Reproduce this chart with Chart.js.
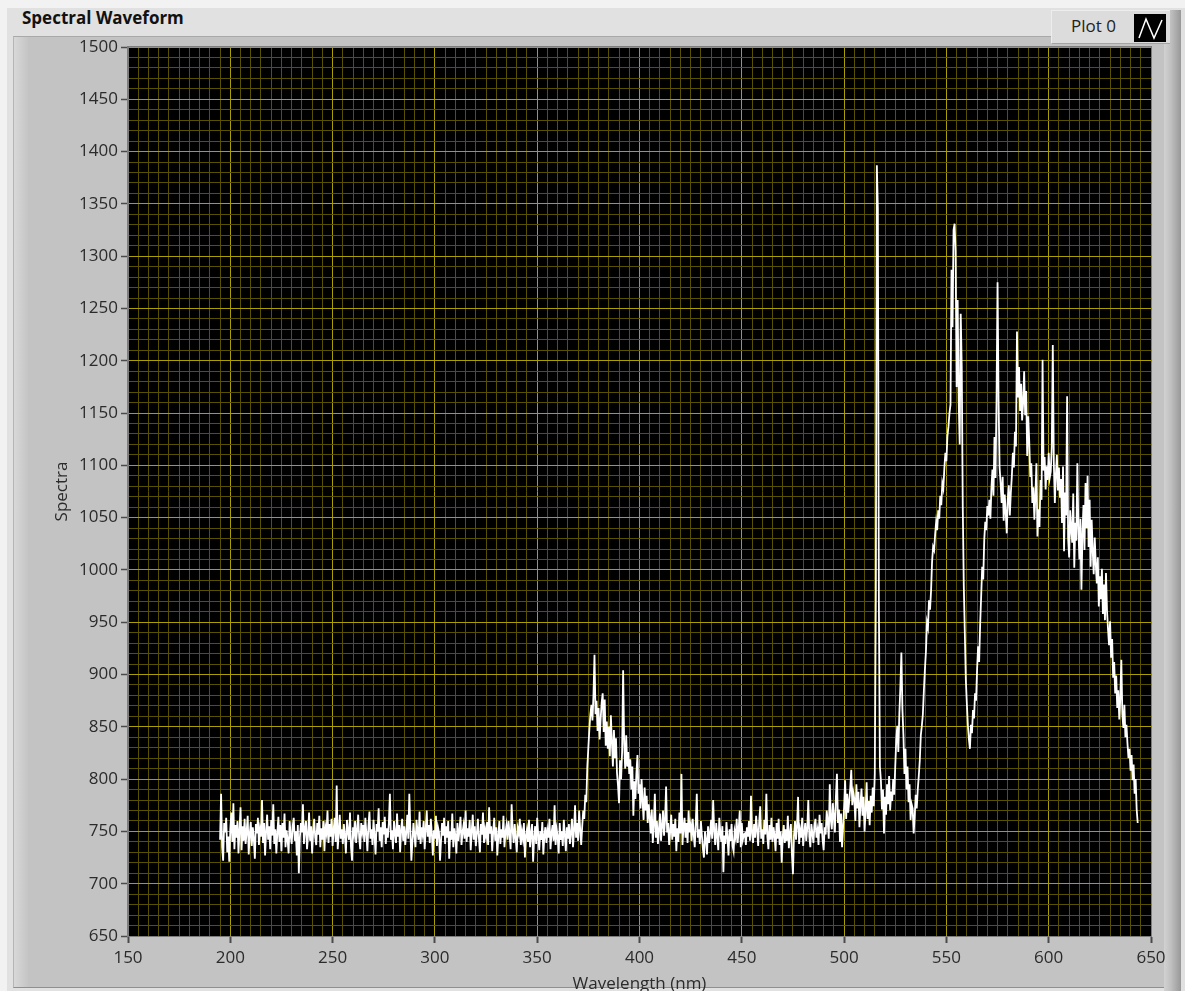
<!DOCTYPE html>
<html>
<head>
<meta charset="utf-8">
<title>Spectral Waveform</title>
<script src="https://cdn.jsdelivr.net/npm/chart.js@4.4.1/dist/chart.umd.min.js"></script>
<style>
  body { margin: 0; width: 1185px; height: 991px; overflow: hidden; background: #f2f2f2; font-family: "Open Sans", sans-serif; position: relative; }
  #frame { position: absolute; left: 7px; top: 8px; width: 1178px; height: 983px; background: #e1e1e1; }
  #title { position: absolute; left: 22px; top: 6px; font-weight: bold; font-size: 17px; color: #111; }
  #panel { position: absolute; left: 13px; top: 36px; width: 1155px; height: 950px; background: #c3c3c3; border-top: 1px solid #a9a9a9; border-left: 1px solid #b5b5b5; border-bottom: 1px solid #8f8f8f; }
  #panelEdge { position: absolute; left: 14px; top: 37px; width: 14px; height: 950px; background: linear-gradient(to right, #d8d8d8, #c5c5c5); }
  #rightBar { position: absolute; left: 1164px; top: 10px; width: 17px; height: 981px; background: linear-gradient(to right, #d2d2d2, #c0c0c0 40%, #989898); }
  #legend { position: absolute; left: 1051px; top: 10px; width: 118px; height: 32px; background: #dcdcdc; border-top: 1px solid #ededed; border-left: 1px solid #ededed; border-bottom: 1px solid #a4a4a4; z-index: 3; }
  #legend span { position: absolute; left: 19px; top: 3px; font-size: 17px; color: #222; }
  #legend svg { position: absolute; left: 82px; top: 3px; }
  #wrap { position: absolute; left: 0; top: 0; width: 1185px; height: 991px; z-index: 2; }
</style>
</head>
<body>
<div id="frame"></div>
<div id="title">Spectral Waveform</div>
<div id="panel"></div>
<div id="panelEdge"></div>
<div id="rightBar"></div>
<div id="legend"><span>Plot 0</span>
  <svg width="32" height="28"><rect width="32" height="28" fill="#000"/><polyline points="5,24 12,5 20,24 28,6" fill="none" stroke="#fff" stroke-width="1.5"/></svg>
</div>
<div id="wrap"><canvas id="spectrumChart"></canvas></div>

<script>
// waveform: first wavelength and sample spacing (nm)
const wavelengthStart = 195;
const wavelengthStep = 0.5;

// spectra values, one row = 10 nm
const spectra = [
  742, 786, 735, 722, 758, 749, 763, 730, 745, 721, 752, 768, 740, 777, 733, 756, 744, 760, 729, 751,
  773, 732, 755, 741, 762, 738, 750, 765, 728, 747, 759, 736, 754, 743, 724, 757, 748, 763, 737, 752,
  745, 780, 739, 758, 727, 750, 766, 742, 755, 733, 761, 746, 776, 738, 752, 729, 749, 764, 740, 756,
  731, 758, 744, 767, 735, 751, 742, 729, 760, 746, 738, 755, 763, 741, 750, 727, 756, 710, 744, 758,
  749, 776, 738, 752, 760, 733, 746, 768, 741, 755, 729, 750, 762, 744, 737, 758, 747, 765, 735, 753,
  742, 760, 731, 754, 748, 770, 739, 757, 745, 762, 736, 751, 763, 740, 794, 733, 748, 766, 743, 752,
  738, 757, 746, 729, 761, 750, 742, 768, 735, 722, 754, 747, 760, 739, 751, 766, 744, 733, 758, 749,
  756, 740, 763, 748, 731, 755, 769, 743, 752, 737, 761, 746, 728, 757, 750, 772, 741, 754, 735, 759,
  747, 764, 738, 753, 744, 758, 786, 742, 751, 733, 760, 748, 739, 767, 745, 756, 730, 752, 762, 741,
  755, 737, 749, 766, 743, 786, 752, 722, 740, 758, 746, 735, 761, 750, 742, 769, 738, 754, 747, 760,
  733, 752, 770, 745, 756, 739, 762, 748, 727, 751, 743, 765, 736, 754, 749, 722, 741, 758, 746, 763,
  738, 755, 744, 760, 724, 750, 742, 767, 735, 753, 746, 729, 758, 741, 751, 764, 737, 749, 756, 743,
  770, 740, 753, 745, 761, 732, 750, 766, 742, 755, 736, 748, 762, 744, 730, 757, 747, 768, 739, 752,
  745, 759, 737, 773, 748, 755, 731, 750, 763, 741, 754, 727, 746, 760, 738, 752, 744, 765, 735, 749,
  756, 742, 760, 747, 733, 776, 751, 739, 757, 744, 730, 753, 748, 762, 737, 750, 743, 758, 725, 746,
  752, 740, 761, 735, 748, 757, 721, 744, 755, 738, 763, 747, 732, 750, 742, 759, 728, 746, 754, 739,
  751, 744, 762, 733, 748, 756, 741, 775, 737, 752, 745, 729, 758, 742, 750, 736, 761, 747, 731, 754,
  743, 757, 738, 749, 762, 735, 751, 775, 744, 758, 741, 770, 752, 737, 755, 770, 762, 785, 778, 812,
  830, 848, 862, 871, 856, 880, 919, 862, 875, 846, 868, 838, 857, 873, 882, 845, 876, 832, 855, 829,
  850, 822, 861, 836, 812, 847, 820, 839, 806, 794, 777, 818, 800, 826, 904, 835, 810, 842, 812, 826,
  805, 819, 790, 812, 765, 798, 781, 806, 823, 786, 795, 772, 800, 779, 761, 792, 770, 784, 758, 776,
  763, 748, 771, 739, 756, 786, 744, 760, 738, 752, 767, 741, 755, 770, 746, 761, 793, 749, 758, 737,
  750, 766, 742, 757, 745, 762, 731, 753, 740, 768, 748, 805, 737, 754, 763, 744, 758, 739, 770, 749,
  756, 741, 762, 747, 735, 758, 786, 744, 752, 738, 760, 746, 733, 725, 750, 742, 728, 755, 739, 748,
  761, 743, 780, 751, 737, 758, 745, 732, 763, 749, 740, 755, 711, 746, 738, 759, 744, 727, 752, 741,
  757, 736, 731, 750, 744, 762, 739, 753, 770, 735, 758, 742, 747, 748, 737, 754, 745, 760, 741, 784,
  748, 739, 757, 744, 765, 751, 736, 759, 774, 743, 752, 738, 761, 747, 786, 745, 733, 756, 742, 763,
  740, 754, 746, 731, 758, 743, 762, 737, 750, 720, 745, 756, 739, 752, 741, 765, 734, 748, 757, 728,
  709, 746, 760, 742, 755, 783, 738, 751, 744, 763, 736, 749, 758, 741, 753, 780, 745, 735, 757, 748,
  739, 755, 762, 744, 751, 737, 766, 748, 758, 742, 732, 754, 747, 770, 759, 743, 795, 761, 752, 777,
  764, 749, 783, 805, 758, 771, 740, 767, 735, 754, 773, 799, 762, 786, 768, 779, 791, 809, 775, 787,
  781, 760, 795, 772, 788, 754, 776, 791, 765, 783, 750, 770, 797, 762, 779, 756, 784, 768, 792, 774,
  805, 975, 1387, 1345, 968, 812, 798, 771, 790, 748, 783, 766, 795, 776, 803, 770, 788, 779, 800, 785,
  812, 838, 851, 826, 862, 888, 921, 867, 842, 805, 829, 790, 812, 778, 795, 761, 776, 772, 748, 764,
  785, 772, 790, 803, 818, 842, 851, 862, 885, 905, 922, 950, 945, 971, 962, 980, 1008, 1022, 1019, 1034,
  1046, 1038, 1057, 1049, 1071, 1062, 1083, 1078, 1097, 1112, 1104, 1128, 1137, 1150, 1158, 1287, 1232, 1325, 1331, 1305,
  1175, 1258, 1162, 1120, 1245, 1194, 1060, 985, 940, 895, 872, 851, 838, 829, 852, 844, 866, 858, 882, 875,
  905, 927, 912, 948, 975, 1003, 991, 1029, 1046, 1038, 1061, 1052, 1067, 1049, 1078, 1096, 1071, 1127, 1088, 1162,
  1275, 1162, 1098, 1083, 1064, 1089, 1047, 1072, 1055, 1035, 1068, 1081, 1052, 1074, 1090, 1112, 1098, 1132, 1118, 1228,
  1165, 1194, 1152, 1178, 1143, 1160, 1190, 1148, 1171, 1109, 1147, 1122, 1089, 1102, 1064, 1079, 1048, 1071, 1102, 1032,
  1058, 1041, 1086, 1067, 1201, 1095, 1108, 1077, 1099, 1086, 1112, 1088, 1094, 1118, 1215, 1103, 1064, 1091, 1110, 1076,
  1098, 1069, 1087, 1045, 1099, 1018, 1074, 1052, 1166, 1030, 1012, 1057, 1039, 1026, 1073, 1002, 1045, 1028, 1102, 1041,
  1010, 1049, 981, 1035, 1062, 1019, 1083, 1040, 1090, 1022, 1067, 1003, 1048, 1019, 996, 1031, 1006, 987, 1012, 965,
  994, 972, 1001, 958, 986, 952, 997, 961, 943, 928, 951, 916, 934, 897, 912, 882, 899, 868, 885, 857,
  878, 914, 862, 849, 871, 840, 852, 834, 820, 829, 808, 823, 799, 814, 786, 800, 771, 758
];

const xTickLabels = [150, 200, 250, 300, 350, 400, 450, 500, 550, 600, 650];
const yTickLabels = [650, 700, 750, 800, 850, 900, 950, 1000, 1050, 1100, 1150, 1200, 1250, 1300, 1350, 1400, 1450, 1500];

const majorGrid = '#aa9e00';
const minorGrid = '#585200';
const labelFont = { family: '"Open Sans", sans-serif', size: 17 };

let points = spectra.map(function (v, i) {
  return { x: wavelengthStart + i * wavelengthStep, y: v };
});

// black plot background + thin frame
const plotFrame = {
  id: 'plotFrame',
  beforeDraw(chart) {
    const a = chart.chartArea;
    const ctx = chart.ctx;
    ctx.save();
    ctx.fillStyle = '#000';
    ctx.fillRect(a.left, a.top, a.right - a.left, a.bottom - a.top);
    ctx.restore();
  },
  afterDraw(chart) {
    const a = chart.chartArea;
    const ctx = chart.ctx;
    ctx.save();
    ctx.strokeStyle = '#7d7d7d';
    ctx.lineWidth = 1;
    ctx.strokeRect(a.left - 0.5, a.top - 0.5, a.right - a.left + 1, a.bottom - a.top + 1);
    ctx.restore();
  }
};

function gridColor(labels) {
  return function (c) {
    return c.tick && labels.includes(c.tick.value) ? majorGrid : minorGrid;
  };
}
function tickMarkColor(labels) {
  return function (c) {
    return c.tick && labels.includes(c.tick.value) ? '#4a4a4a' : 'rgba(0,0,0,0)';
  };
}

new Chart(document.getElementById('spectrumChart'), {
  type: 'line',
  data: {
    datasets: [{
      label: 'Plot 0',
      data: points,
      borderColor: '#ffffff',
      borderWidth: 1.8,
      pointRadius: 0,
      tension: 0,
      fill: false
    }]
  },
  options: {
    responsive: true,
    maintainAspectRatio: false,
    animation: false,
    events: [],
    layout: { padding: { left: 0, top: 47, right: 34, bottom: 0 } },
    plugins: { legend: { display: false }, title: { display: false }, tooltip: { enabled: false } },
    scales: {
      x: {
        type: 'linear',
        min: 150,
        max: 650,
        grid: { color: gridColor(xTickLabels), tickColor: tickMarkColor(xTickLabels), tickLength: 7, tickWidth: 2 },
        border: { color: '#7d7d7d' },
        ticks: {
          stepSize: 5, autoSkip: false, maxRotation: 0, minRotation: 0, padding: 5,
          color: '#2b2b2b', font: labelFont,
          callback: function (v) { return xTickLabels.includes(v) ? String(v) : ''; }
        },
        title: { display: true, text: 'Wavelength (nm)', color: '#2b2b2b', font: labelFont, padding: { top: 0, bottom: -3 } },
        afterFit: function (s) { s.height = 55; s.paddingLeft = 0; s.paddingRight = 0; }
      },
      y: {
        min: 650,
        max: 1500,
        grid: { color: gridColor(yTickLabels), tickColor: tickMarkColor(yTickLabels), tickLength: 7, tickWidth: 1.5 },
        border: { color: '#7d7d7d' },
        ticks: {
          stepSize: 10, autoSkip: false, padding: 3,
          color: '#2b2b2b', font: labelFont,
          callback: function (v) { return yTickLabels.includes(v) ? String(v) : ''; }
        },
        title: { display: true, text: 'Spectra', color: '#2b2b2b', font: labelFont, padding: { top: 52, bottom: 0 } },
        afterFit: function (s) { s.width = 128; s.paddingTop = 0; s.paddingBottom = 0; }
      }
    }
  },
  plugins: [plotFrame]
});
</script>
</body>
</html>
